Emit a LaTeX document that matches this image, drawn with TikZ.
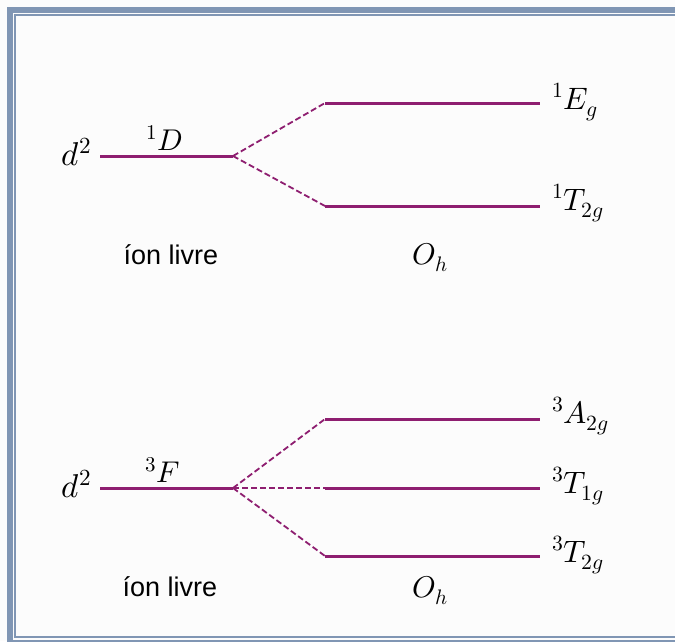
\documentclass[tikz,border=0pt]{standalone}
\usepackage{fontspec}
\usepackage{unicode-math}
\setmathfont{Latin Modern Math}
\newfontfamily\labelfont{Liberation Sans}
\definecolor{lvl}{RGB}{142,30,112}
\definecolor{framec}{RGB}{128,150,180}
\definecolor{paper}{RGB}{252,252,252}
\begin{document}
\begin{tikzpicture}[x=1pt,y=-1pt,
  level/.style={draw=lvl,line width=3pt},
  split/.style={draw=lvl,line width=1.8pt,dash pattern=on 6pt off 3pt},
  dlbl/.style={font=\fontsize{33}{36}\selectfont,inner sep=0pt,anchor=base east},
  mlbl/.style={font=\fontsize{30}{34}\selectfont,inner sep=0pt,anchor=base},
  rlbl/.style={font=\fontsize{31}{34}\selectfont,inner sep=0pt,anchor=base west},
  tlbl/.style={font=\fontsize{27}{32}\selectfont\labelfont,inner sep=0pt,anchor=base}]
\useasboundingbox (0,0) rectangle (675,641);
\fill[paper] (0,0) rectangle (675,641);
\draw[framec,line width=6pt] (9.7,9.7) rectangle (700,642.5);
\draw[framec,line width=1.6pt] (14.9,14.9) rectangle (690,637);

% upper diagram (1D)
\coordinate (uL) at (100,156);
\coordinate (uR) at (233,156);
\coordinate (e1) at (325,103);
\coordinate (e2) at (540,103);
\coordinate (t1) at (325,206);
\coordinate (t2) at (540,206);
\draw[level] (uL) -- (uR);
\draw[level] (e1) -- (e2);
\draw[level] (t1) -- (t2);
\draw[split] (uR) -- (e1);
\draw[split] (uR) -- (t1);
\node[dlbl] (ud) at (92,165) {$d^2$};
\node[mlbl] (uD) at (164,150) {${}^1D$};
\node[rlbl] (uEg) at (552,109) {${}^1E_g$};
\node[rlbl] (uT2g) at (552,210) {${}^1T_{2g}$};
\node[tlbl] (uion) at (171,264) {íon livre};
\node[mlbl] (uOh) at (430,264) {$O_h$};

% lower diagram (3F)
\coordinate (lL) at (100,488);
\coordinate (lR) at (233,488);
\coordinate (a1) at (325,419);
\coordinate (a2) at (540,419);
\coordinate (m1) at (325,488);
\coordinate (m2) at (540,488);
\coordinate (b1) at (325,556);
\coordinate (b2) at (540,556);
\draw[level] (lL) -- (lR);
\draw[level] (a1) -- (a2);
\draw[level] (m1) -- (m2);
\draw[level] (b1) -- (b2);
\draw[split] (lR) -- (a1);
\draw[split] (lR) -- (m1);
\draw[split] (lR) -- (b1);
\node[dlbl] (ld) at (92,497) {$d^2$};
\node[mlbl] (lF) at (163,482) {${}^3F$};
\node[rlbl] (lA2g) at (552,423) {${}^3A_{2g}$};
\node[rlbl] (lT1g) at (552,493) {${}^3T_{1g}$};
\node[rlbl] (lT2g) at (552,562) {${}^3T_{2g}$};
\node[tlbl] (lion) at (170,596) {íon livre};
\node[mlbl] (lOh) at (430,597) {$O_h$};
\end{tikzpicture}
\end{document}
